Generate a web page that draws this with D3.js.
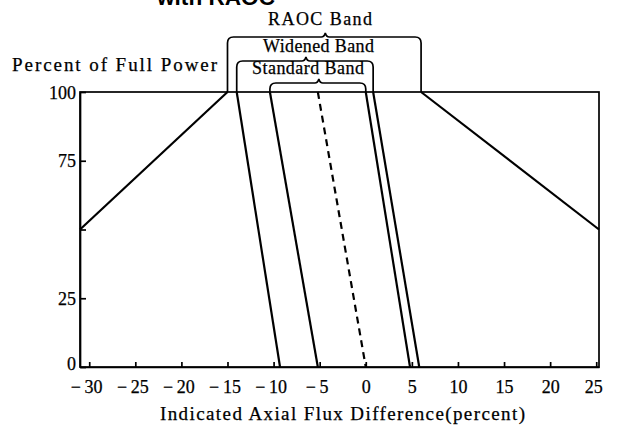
<!DOCTYPE html>
<html>
<head>
<meta charset="utf-8">
<script src="https://cdn.jsdelivr.net/npm/d3@7"></script>
<style>
  html, body { margin: 0; padding: 0; background: #fff; }
  svg { display: block; }
  text { font-family: "Liberation Serif", "DejaVu Serif", serif; fill: #000; stroke: #000; stroke-width: 0.25px; }
</style>
</head>
<body>
<svg id="chart" width="617" height="429"></svg>
<script>
// ---- data ----
const xTickValues = [-30, -25, -20, -15, -10, -5, 0, 5, 10, 15, 20, 25];
const yTickValues = [0, 25, 50, 75, 100];
const yTickLabels = ["0", "25", "", "75", "100"];
const xDomain = [-31, 25.3];
const yDomain = [0, 100];

// lines: [AFD, percent power]
const raocLeft      = [[-31, 50], [-15, 100]];
const raocRight     = [[6, 100], [25.3, 50]];
const widenedLeft   = [[-14, 100], [-9.3, 0]];
const widenedRight  = [[0.8, 100], [5.8, 0]];
const standardLeft  = [[-10.4, 100], [-5.2, 0]];
const standardRight = [[0, 100], [4.8, 0]];
const targetLine    = [[-5.2, 100], [0, 0]];

const bandNames = ["RAOC Band", "Widened Band", "Standard Band"];
const titleText = "with RAOC";
const yTitle = "Percent of Full Power";
const xTitle = "Indicated Axial Flux Difference(percent)";

// ---- layout ----
const svg = d3.select("#chart");
const L = 80, R = 599, T = 92, B = 367;
const x = d3.scaleLinear().domain(xDomain).range([L, R]);
const y = d3.scaleLinear().domain(yDomain).range([B, T]);

// frame
svg.append("rect")
  .attr("x", L).attr("y", T).attr("width", R - L).attr("height", B - T)
  .attr("fill", "none").attr("stroke", "#000").attr("stroke-width", 1.7);

// axes
const yAxis = d3.axisLeft(y).tickValues(yTickValues)
  .tickFormat((d, i) => yTickLabels[i]).tickSizeInner(-6).tickSizeOuter(0).tickPadding(4);
const gy = svg.append("g").attr("transform", `translate(${L},0)`).call(yAxis);
gy.selectAll("text").style("font-size", "18px").style("font-family", '"Liberation Serif", serif')
  .attr("dy", d => d === 0 ? "0.15em" : "0.34em");

const xAxis = d3.axisBottom(x).tickValues(xTickValues)
  .tickFormat(d => d < 0 ? "\u2212" + "\u2009" + Math.abs(d) : String(d))
  .tickSizeInner(-5).tickSizeOuter(0).tickPadding(13);
const gx = svg.append("g").attr("transform", `translate(0,${B})`).call(xAxis);
gx.selectAll("text").style("font-size", "18px").style("font-family", '"Liberation Serif", serif')
  .attr("dx", d => d < 0 ? -3 : (d === 25 ? -3 : 0));

svg.selectAll(".domain").attr("stroke", "#000").attr("stroke-width", 1.7);
svg.selectAll(".tick line").attr("stroke", "#000").attr("stroke-width", 1.7);

// lines
const line = d3.line().x(d => x(d[0])).y(d => y(d[1]));
const solid = [raocLeft, raocRight, widenedLeft, widenedRight, standardLeft, standardRight];
svg.append("g").selectAll("path").data(solid).join("path")
  .attr("d", line).attr("fill", "none").attr("stroke", "#000").attr("stroke-width", 2.2);
svg.append("path").datum(targetLine).attr("d", line)
  .attr("fill", "none").attr("stroke", "#000").attr("stroke-width", 2.2)
  .attr("stroke-dasharray", "7,5");

// brackets
function bracket(xl, xr, top, bottom) {
  const r = 6, tip = (xl + xr) / 2 + 1;
  return `M${xl},${bottom} L${xl},${top + r} Q${xl},${top} ${xl + r},${top}` +
    ` L${tip - 4},${top} Q${tip - 1},${top} ${tip},${top - 4} Q${tip + 1},${top} ${tip + 4},${top}` +
    ` L${xr - r},${top} Q${xr},${top} ${xr},${top + r} L${xr},${bottom}`;
}
const brackets = [
  { l: raocLeft[1][0], r: raocRight[0][0], top: 37 },
  { l: widenedLeft[0][0], r: widenedRight[0][0], top: 61 },
  { l: standardLeft[0][0], r: standardRight[0][0], top: 83 }
];
svg.append("g").selectAll("path").data(brackets).join("path")
  .attr("d", d => bracket(x(d.l), x(d.r), d.top, T))
  .attr("fill", "none").attr("stroke", "#000").attr("stroke-width", 1.7);

// band labels
const bandLabelPos = [
  { x: 268, y: 25, w: 104 },
  { x: 263, y: 52, w: 111 },
  { x: 252, y: 74, w: 112 }
];
svg.append("g").selectAll("text").data(bandNames).join("text")
  .attr("x", (d, i) => bandLabelPos[i].x).attr("y", (d, i) => bandLabelPos[i].y)
  .attr("textLength", (d, i) => bandLabelPos[i].w).attr("lengthAdjust", "spacing")
  .style("font-size", "18px").text(d => d);

// titles
svg.append("text").attr("x", 157).attr("y", 5)
  .attr("textLength", 118).attr("lengthAdjust", "spacingAndGlyphs")
  .style("font-family", '"Liberation Sans", Arial, sans-serif').style("font-weight", "bold")
  .style("font-size", "22px").style("stroke-width", "0").text(titleText);

svg.append("text").attr("x", 12).attr("y", 71)
  .attr("textLength", 205).attr("lengthAdjust", "spacing")
  .style("font-size", "19px").text(yTitle);

svg.append("text").attr("x", 160).attr("y", 420)
  .attr("textLength", 365).attr("lengthAdjust", "spacing")
  .style("font-size", "19px").text(xTitle);
</script>
</body>
</html>
